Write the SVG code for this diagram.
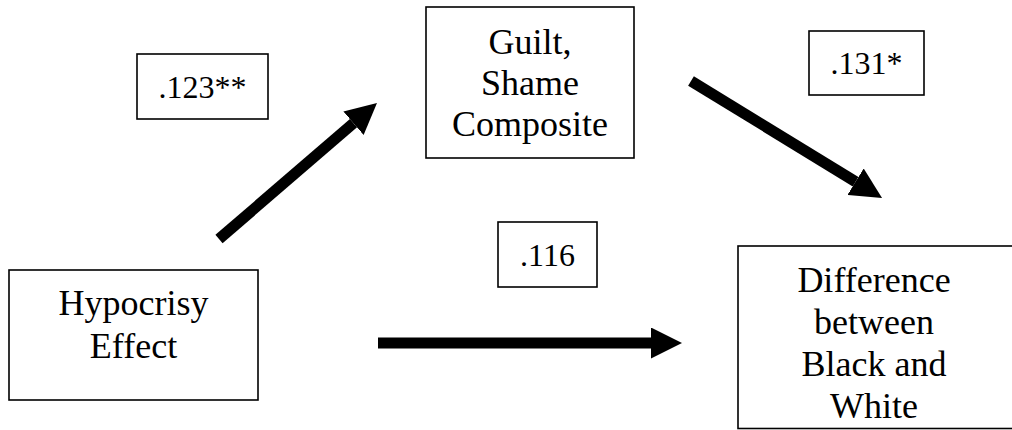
<svg xmlns="http://www.w3.org/2000/svg" width="1012" height="430" viewBox="0 0 1012 430">
  <style>
    .box { fill: #fff; stroke: #000; stroke-width: 1.6; }
    .lbl { font-size: 36px; fill: #000; text-anchor: middle; }
    .num { font-size: 32px; fill: #000; text-anchor: middle; }
    .conn { stroke: #000; stroke-width: 11; fill: none; marker-end: url(#head); }
  </style>
  <defs>
    <marker id="head" markerUnits="userSpaceOnUse" viewBox="0 0 31 31" markerWidth="31" markerHeight="31" refX="0" refY="15.5" orient="auto">
      <path d="M0,0 L31,15.5 L0,31 z" fill="#000"/>
    </marker>
  </defs>
  <rect width="1012" height="430" fill="#fff"/>

  <g id="connectors">
    <line class="conn" x1="219" y1="239" x2="353.5" y2="123.2"/>
    <line class="conn" x1="691" y1="81" x2="855.6" y2="181.7"/>
    <line class="conn" x1="378" y1="343" x2="651" y2="343"/>
  </g>

  <g font-family="'Liberation Serif', Tinos, 'Times New Roman', 'DejaVu Serif', serif">
  <g id="guilt">
    <rect class="box" x="426" y="7" width="208" height="151"/>
    <text class="lbl" x="530" y="54">Guilt,</text>
    <text class="lbl" x="530" y="95">Shame</text>
    <text class="lbl" x="530" y="136">Composite</text>
  </g>

  <g id="hypocrisy">
    <rect class="box" x="9" y="270" width="249" height="130"/>
    <text class="lbl" x="133.5" y="315">Hypocrisy</text>
    <text class="lbl" x="133.5" y="358">Effect</text>
  </g>

  <g id="difference">
    <rect class="box" x="738" y="246" width="280" height="182.5"/>
    <text class="lbl" x="874" y="292">Difference</text>
    <text class="lbl" x="874" y="334">between</text>
    <text class="lbl" x="874" y="376">Black and</text>
    <text class="lbl" x="874" y="418">White</text>
  </g>

  <g id="coef-a">
    <rect class="box" x="137" y="54" width="131" height="65"/>
    <text class="num" x="202.5" y="98">.123**</text>
  </g>

  <g id="coef-b">
    <rect class="box" x="809" y="31" width="115" height="64"/>
    <text class="num" x="866.5" y="74">.131*</text>
  </g>

  <g id="coef-c">
    <rect class="box" x="498" y="222" width="99" height="65"/>
    <text class="num" x="547.5" y="266">.116</text>
  </g>
  </g>
</svg>
